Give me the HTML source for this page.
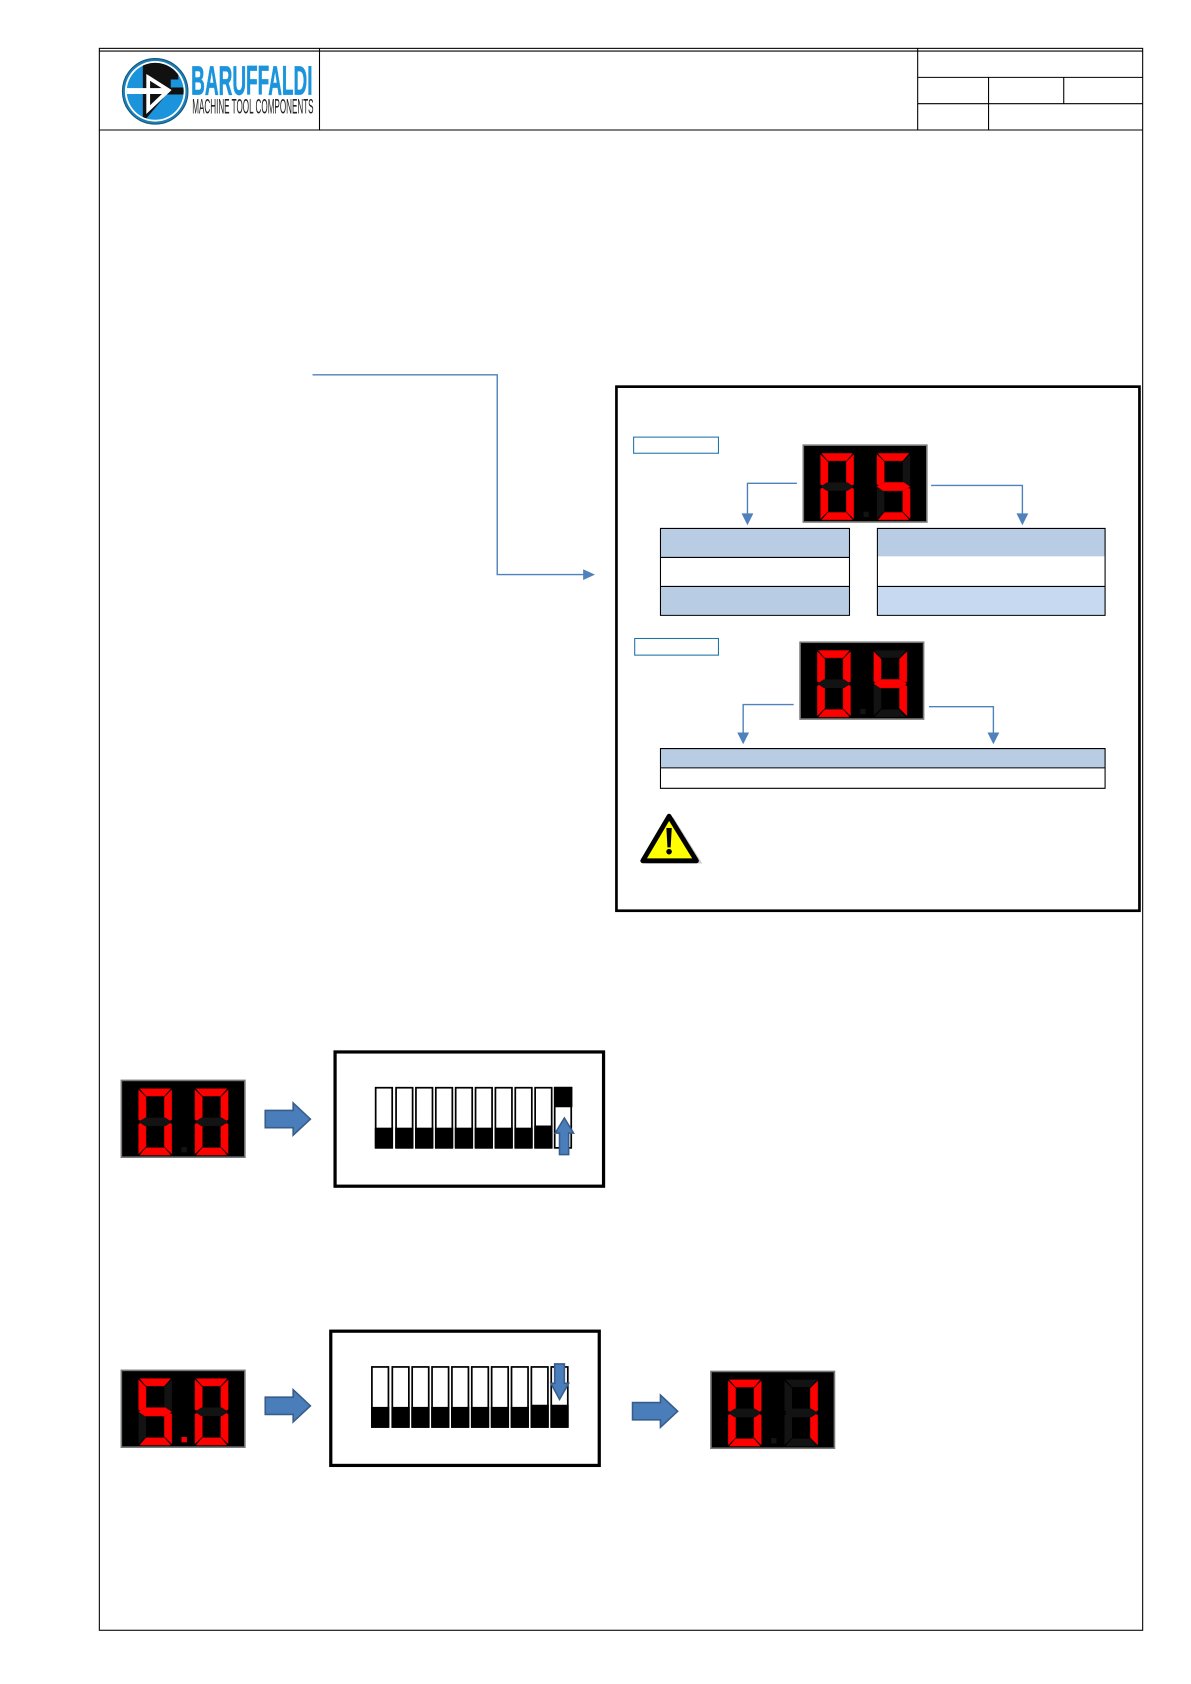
<!DOCTYPE html>
<html><head><meta charset="utf-8"><style>
html,body{margin:0;padding:0;background:#fff;width:1191px;height:1684px;overflow:hidden}
svg{display:block}
.l{fill:none;stroke:#000;stroke-width:1}
.on{fill:#f00;stroke:#b00000;stroke-width:.4}
.off{fill:#131313}
.c{fill:none;stroke:#4f81bd;stroke-width:1.3}
.h{fill:#4f81bd}
.ba{fill:#4a7ebb;stroke:#385d8a;stroke-width:1.5}
</style></head><body>
<svg width="1191" height="1684" viewBox="0 0 1109 1568" xmlns="http://www.w3.org/2000/svg">
<defs>
<polygon id="a" points="1,0 30,0 24,7 7,7"/>
<polygon id="b" points="31,1 31,29 27.5,30.5 24,27.5 24,8"/>
<polygon id="c" points="31,61 31,33 27.5,31.5 24,34.5 24,54"/>
<polygon id="d" points="1,62 30,62 24,55 7,55"/>
<polygon id="e" points="0,61 0,33 3.5,31.5 7,34.5 7,54"/>
<polygon id="f" points="0,1 0,29 3.5,30.5 7,27.5 7,8"/>
<polygon id="g" points="0,31 6,27 25,27 31,31 25,35 6,35"/>
<g id="d0"><use href="#a" class="on"/><use href="#b" class="on"/><use href="#c" class="on"/><use href="#d" class="on"/><use href="#e" class="on"/><use href="#f" class="on"/><use href="#g" class="off"/></g>
<g id="d1"><use href="#a" class="off"/><use href="#b" class="on"/><use href="#c" class="on"/><use href="#d" class="off"/><use href="#e" class="off"/><use href="#f" class="off"/><use href="#g" class="off"/></g>
<g id="d4"><use href="#a" class="off"/><use href="#b" class="on"/><use href="#c" class="on"/><use href="#d" class="off"/><use href="#e" class="off"/><use href="#f" class="on"/><use href="#g" class="on"/></g>
<g id="d5"><use href="#a" class="on"/><use href="#b" class="off"/><use href="#c" class="on"/><use href="#d" class="on"/><use href="#e" class="off"/><use href="#f" class="on"/><use href="#g" class="on"/></g>
<rect id="disp" x="0" y="0" width="115" height="71.5" fill="#000" stroke="#777" stroke-width="1.5"/>
<clipPath id="lc"><circle cx="144.5" cy="85" r="26.5"/></clipPath>
<g id="sw"><rect x=".8" y=".8" width="15.4" height="56" fill="#fff" stroke="#000" stroke-width="1.6"/><rect x="0" y="38" width="17" height="19" fill="#000"/></g>
<g id="sw2"><rect x=".8" y=".8" width="15.4" height="56" fill="#fff" stroke="#000" stroke-width="1.6"/><rect x="0" y="36" width="17" height="21" fill="#000"/></g>
<polygon id="barrow" class="ba" points="0,8.5 26,8.5 26,1.5 42,16.5 26,31.5 26,24.5 0,24.5" transform="translate(0,-16.5)"/>
</defs>

<!-- page frame -->
<rect class="l" x="92.5" y="45" width="971.5" height="1473"/>
<path class="l" d="M92.5 47.5H1064M92.5 121H1064M297.5 45V121M854.5 45V121M854.5 72H1064M854.5 96.5H1064M920.5 72V121M990.5 72V96.5"/>

<!-- logo -->
<circle cx="144.5" cy="85" r="30.5" fill="#1b7fb5" stroke="#14587f" stroke-width="1"/>
<circle cx="144.5" cy="85" r="28.2" fill="#fff"/>
<circle cx="144.5" cy="85" r="26.5" fill="#1b94dc"/>
<g clip-path="url(#lc)">
<polygon points="133,55 166,55 166,74 159,74 159,81.5 173,81.5 173,88 155,88 133,114" fill="#111"/>
<polygon points="138,72 157,84 138,102" fill="none" stroke="#fff" stroke-width="3.5"/>
<rect x="117" y="82" width="38" height="5.5" fill="#fff"/>
</g>
<text x="178" y="88" font-family="Liberation Sans,sans-serif" font-size="38" font-weight="bold" fill="#1b94dc" stroke="#1b94dc" stroke-width=".6" textLength="113" lengthAdjust="spacingAndGlyphs">BARUFFALDI</text>
<text x="179" y="105.5" font-family="Liberation Sans,sans-serif" font-size="19.5" fill="#222" textLength="113" lengthAdjust="spacingAndGlyphs">MACHINE TOOL COMPONENTS</text>

<!-- leader -->
<path class="c" d="M291 349H463V535H546"/>
<polygon class="h" points="543,530 554,535 543,540"/>

<!-- big box -->
<rect x="574" y="360" width="487" height="488" fill="#fff" stroke="#000" stroke-width="2.5"/>
<rect x="590" y="407" width="79" height="15" fill="#fff" stroke="#1f75a8" stroke-width="1"/>
<rect x="591" y="594.5" width="78" height="15.5" fill="#fff" stroke="#1f75a8" stroke-width="1"/>

<!-- display 05 -->
<g transform="translate(748,414.5)"><use href="#disp"/><use href="#d0" transform="translate(16,7.6)"/><use href="#d5" transform="translate(68.5,7.6)"/><rect x="56" y="62" width="5" height="5" fill="#131313"/></g>
<path class="c" d="M742 450H696V481"/><polygon class="h" points="690.5,478 701.5,478 696,489"/>
<path class="c" d="M867 452H952V481"/><polygon class="h" points="946.5,478 957.5,478 952,489"/>

<!-- tables -->
<rect x="615" y="492" width="176" height="27" fill="#b8cce4"/>
<rect x="615" y="546" width="176" height="27" fill="#b8cce4"/>
<path class="l" d="M615 492H791V573H615ZM615 519H791M615 546H791"/>
<rect x="817" y="492" width="212" height="26" fill="#b8cce4"/>
<rect x="817" y="546" width="212" height="27" fill="#c6d9f0"/>
<path class="l" d="M817 492H1029V573H817ZM817 546H1029"/>

<!-- display 04 -->
<g transform="translate(745,598)"><use href="#disp"/><use href="#d0" transform="translate(16,7.6)"/><use href="#d4" transform="translate(68.5,7.6)"/><rect x="56" y="62" width="5" height="5" fill="#131313"/></g>
<path class="c" d="M739 656H692V685"/><polygon class="h" points="686.5,682 697.5,682 692,693"/>
<path class="c" d="M865 658H925V685"/><polygon class="h" points="919.5,682 930.5,682 925,693"/>

<rect x="615" y="697" width="414" height="18" fill="#b8cce4"/>
<path class="l" d="M615 697H1029V734H615ZM615 715H1029"/>

<!-- warning -->
<polygon points="627,761 654,804 601,804" fill="#ccc"/>
<polygon points="623,760 648.5,801.5 598.5,801.5" fill="#ff0" stroke="#000" stroke-width="4.5" stroke-linejoin="round"/>
<polygon points="620.5,771 625.5,771 624.5,789 621.5,789" fill="#000"/>
<circle cx="623" cy="793" r="2.6" fill="#000"/>

<!-- display 00 -->
<g transform="translate(113,1006)"><use href="#disp"/><use href="#d0" transform="translate(16,7.6)"/><use href="#d0" transform="translate(68.5,7.6)"/><rect x="56" y="62" width="5" height="5" fill="#131313"/></g>
<use href="#barrow" transform="translate(247,1042)"/>

<!-- dip box 1 -->
<rect x="312" y="979.5" width="250" height="125" fill="#fff" stroke="#000" stroke-width="3"/>
<g transform="translate(349,1012)">
<use href="#sw" x="0"/><use href="#sw" x="19"/><use href="#sw" x="37.5"/><use href="#sw" x="56"/><use href="#sw" x="74.5"/><use href="#sw" x="93"/><use href="#sw" x="111.5"/><use href="#sw" x="130"/><use href="#sw2" x="148.5"/>
<rect x="167.5" y=".8" width="15.4" height="56" fill="#fff" stroke="#000" stroke-width="1.6"/><rect x="167" y="0" width="17" height="19" fill="#000"/>
</g>
<polygon class="ba" points="525.5,1041 534,1055 529.5,1055 529.5,1075 521,1075 521,1055 517,1055"/>

<!-- display 5.0 -->
<g transform="translate(113,1276)"><use href="#disp"/><use href="#d5" transform="translate(16,7.6)"/><use href="#d0" transform="translate(68.5,7.6)"/><rect x="56" y="62" width="5" height="5" fill="#f00"/></g>
<use href="#barrow" transform="translate(247,1309)"/>

<!-- dip box 2 -->
<rect x="308" y="1239.5" width="250" height="125" fill="#fff" stroke="#000" stroke-width="3"/>
<g transform="translate(345.5,1272)">
<use href="#sw" x="0"/><use href="#sw" x="19"/><use href="#sw" x="37.5"/><use href="#sw" x="56"/><use href="#sw" x="74.5"/><use href="#sw" x="93"/><use href="#sw" x="111.5"/><use href="#sw" x="130"/><use href="#sw2" x="148.5"/><use href="#sw2" x="167"/>
</g>
<polygon class="ba" points="521,1303 529.5,1288 525.5,1288 525.5,1270 516.5,1270 516.5,1288 513,1288"/>

<use href="#barrow" transform="translate(589,1314)"/>

<!-- display 0.1 -->
<g transform="translate(662,1277)"><use href="#disp"/><use href="#d0" transform="translate(16,7.6)"/><use href="#d1" transform="translate(68.5,7.6)"/><rect x="56" y="62" width="5" height="5" fill="#131313"/></g>
</svg>
</body></html>
